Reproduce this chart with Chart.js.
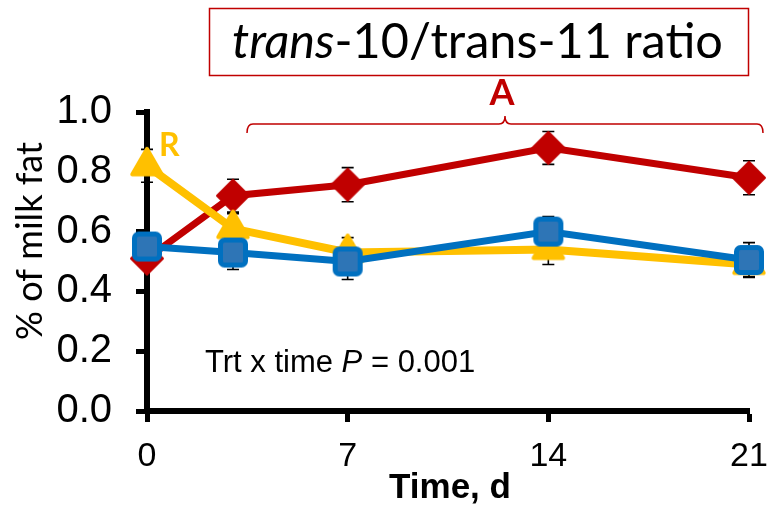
<!DOCTYPE html>
<html>
<head>
<meta charset="utf-8">
<script src="https://cdn.jsdelivr.net/npm/chart.js@4"></script>
<style>
  html, body { margin: 0; padding: 0; background: #fff; }
  #wrap { width: 772px; height: 512px; }
</style>
</head>
<body>
<div id="wrap"><canvas id="myChart" width="772" height="512"></canvas></div>
<script>
// sampling days and ratio means (% of milk fat) per treatment
const days = [0, 3, 7, 14, 21];
const trtRed = [0.51, 0.72, 0.757, 0.88, 0.78];
const trtYellow = [0.82, 0.61, 0.53, 0.54, 0.49];
const trtBlue = [0.55, 0.53, 0.50, 0.60, 0.505];

// standard errors
const errRed = [0.03, 0.055, 0.057, 0.055, 0.057];
const errYellow = [0.055, 0.05, 0.05, 0.05, 0.04];
const errBlue = [0.03, 0.057, 0.06, 0.05, 0.058];

const xTicks = [0, 7, 14, 21];
const yTicks = [0, 0.2, 0.4, 0.6, 0.8, 1.0];

const RED = '#C00000';
const YELLOW = '#FFC000';
const BLUE = '#0070C0';

// little canvases used as point markers
function makeTriangle(r, color) {
  const c = document.createElement('canvas');
  const s = Math.ceil(2 * r + 10);
  c.width = s; c.height = s;
  const g = c.getContext('2d');
  const m = s / 2;
  g.beginPath();
  for (let k = 0; k < 3; k++) {
    const a = -Math.PI / 2 + k * 2 * Math.PI / 3;
    const px = m + r * Math.cos(a), py = m + r * Math.sin(a);
    if (k === 0) g.moveTo(px, py); else g.lineTo(px, py);
  }
  g.closePath();
  g.fillStyle = color; g.strokeStyle = color;
  g.lineWidth = 4; g.lineJoin = 'round';
  g.fill(); g.stroke();
  return c;
}

function makeSquare(side, fill, stroke) {
  const c = document.createElement('canvas');
  const s = side + 8;
  c.width = s; c.height = s;
  const g = c.getContext('2d');
  const m = s / 2, h = (side - 5) / 2;
  g.beginPath();
  g.roundRect(m - h, m - h, 2 * h, 2 * h, 4);
  g.fillStyle = fill; g.fill();
  g.strokeStyle = stroke; g.lineWidth = 5; g.lineJoin = 'round';
  g.stroke();
  return c;
}

function makeDiamond(r, color) {
  const c = document.createElement('canvas');
  const s = 2 * r + 6;
  c.width = s; c.height = s;
  const g = c.getContext('2d');
  const m = s / 2;
  g.beginPath();
  g.moveTo(m, m - r); g.lineTo(m + r, m); g.lineTo(m, m + r); g.lineTo(m - r, m);
  g.closePath();
  g.fillStyle = color; g.strokeStyle = color;
  g.lineWidth = 2; g.lineJoin = 'round';
  g.fill(); g.stroke();
  return c;
}

function toXY(vals) {
  return vals.map((v, i) => ({ x: days[i], y: v }));
}

const errorBars = {
  id: 'errorBars',
  beforeDatasetsDraw(chart) {
    const ctx = chart.ctx;
    const yScale = chart.scales.y;
    const errs = [errBlue, errYellow, errRed];
    ctx.save();
    ctx.strokeStyle = '#000';
    ctx.lineWidth = 1.6;
    chart.data.datasets.forEach((ds, i) => {
      const meta = chart.getDatasetMeta(i);
      meta.data.forEach((pt, j) => {
        const v = ds.data[j].y;
        const top = yScale.getPixelForValue(v + errs[i][j]);
        const bot = yScale.getPixelForValue(v - errs[i][j]);
        ctx.beginPath();
        ctx.moveTo(pt.x, top); ctx.lineTo(pt.x, bot);
        ctx.moveTo(pt.x - 6, top); ctx.lineTo(pt.x + 6, top);
        ctx.moveTo(pt.x - 6, bot); ctx.lineTo(pt.x + 6, bot);
        ctx.stroke();
      });
    });
    ctx.restore();
  }
};

// font size that makes a string come out at a given width
function fitSize(ctx, parts, family, target) {
  let w = 0;
  parts.forEach(p => {
    ctx.font = (p.style || '') + ' 100px ' + family;
    w += ctx.measureText(p.text).width;
  });
  return 100 * target / w;
}

function drawParts(ctx, parts, family, size, x, y) {
  parts.forEach(p => {
    ctx.font = (p.style || '') + ' ' + size + 'px ' + family;
    ctx.fillText(p.text, x, y);
    x += ctx.measureText(p.text).width;
  });
}

const labels = {
  id: 'labels',
  afterDraw(chart) {
    const ctx = chart.ctx;
    ctx.save();
    ctx.textBaseline = 'alphabetic';
    ctx.textAlign = 'left';

    // boxed heading
    ctx.strokeStyle = RED;
    ctx.lineWidth = 1.5;
    ctx.strokeRect(209.5, 8.5, 539, 67);
    const head = [{ text: 'trans', style: 'italic' }, { text: '-10/trans-11 ratio' }];
    const hf = 'Lato, "Open Sans", sans-serif';
    const hs = fitSize(ctx, head, hf, 491);
    ctx.fillStyle = '#000';
    drawParts(ctx, head, hf, hs, 232, 58);

    // bracket with letter
    ctx.beginPath();
    ctx.moveTo(247, 133);
    ctx.quadraticCurveTo(247, 124, 253, 124);
    ctx.lineTo(499, 124);
    ctx.quadraticCurveTo(505, 124, 505, 116);
    ctx.quadraticCurveTo(505, 124, 511, 124);
    ctx.lineTo(757, 124);
    ctx.quadraticCurveTo(763, 124, 763, 133);
    ctx.stroke();

    ctx.fillStyle = RED;
    ctx.font = 'bold 36px Lato, sans-serif';
    ctx.textAlign = 'center';
    ctx.fillText('A', 502, 105);

    ctx.fillStyle = YELLOW;
    ctx.textAlign = 'left';
    ctx.font = 'bold 32px Lato, sans-serif';
    ctx.fillText('R', 159, 156);

    // interaction P value
    ctx.fillStyle = '#000';
    const pv = [{ text: 'Trt x time ' }, { text: 'P', style: 'italic' }, { text: ' = 0.001' }];
    drawParts(ctx, pv, '"Liberation Sans", Arial, sans-serif', 31, 205, 372);

    // axis titles
    ctx.font = 'bold 35px "Liberation Sans", Arial, sans-serif';
    ctx.textAlign = 'center';
    ctx.fillText('Time, d', 450, 498);

    const yt = [{ text: '% of milk fat' }];
    const ys = fitSize(ctx, yt, hf, 198);
    ctx.translate(42, 241);
    ctx.rotate(-Math.PI / 2);
    ctx.font = ys + 'px ' + hf;
    ctx.textAlign = 'center';
    ctx.fillText('% of milk fat', 0, 0);
    ctx.restore();
  }
};

const ctx = document.getElementById('myChart');

new Chart(ctx, {
  type: 'line',
  data: {
    datasets: [
      {
        label: 'Blue',
        data: toXY(trtBlue),
        borderColor: BLUE,
        borderWidth: 7,
        pointStyle: makeSquare(30, '#2E75B6', BLUE),
        pointRadius: 15,
        clip: false
      },
      {
        label: 'Yellow',
        data: toXY(trtYellow),
        borderColor: YELLOW,
        borderWidth: 8,
        pointStyle: makeTriangle(17, YELLOW),
        pointRadius: 15,
        clip: false
      },
      {
        label: 'Red',
        data: toXY(trtRed),
        borderColor: RED,
        borderWidth: 7,
        pointStyle: makeDiamond(16, RED),
        pointRadius: 15,
        clip: false
      }
    ]
  },
  options: {
    responsive: false,
    animation: false,
    layout: { padding: { top: 112, right: 18, bottom: 0, left: 0 } },
    plugins: {
      legend: { display: false },
      tooltip: { enabled: false }
    },
    scales: {
      x: {
        type: 'linear',
        min: 0,
        max: 21,
        afterBuildTicks: s => { s.ticks = xTicks.map(v => ({ value: v })); },
        afterFit: s => { s.height = 101; s.paddingLeft = 0; s.paddingRight = 0; },
        grid: { drawOnChartArea: false, tickLength: 11, tickWidth: 5, tickColor: '#000' },
        border: { color: '#000', width: 6 },
        ticks: {
          color: '#000',
          padding: 14,
          font: { family: '"Liberation Sans", Arial, sans-serif', size: 34 }
        }
      },
      y: {
        min: 0,
        max: 1,
        afterBuildTicks: s => { s.ticks = yTicks.map(v => ({ value: v })); },
        afterFit: s => { s.width = 147; },
        grid: { drawOnChartArea: false, tickLength: 11, tickWidth: 5, tickColor: '#000' },
        border: { color: '#000', width: 6 },
        ticks: {
          color: '#000',
          padding: 24,
          callback: v => v.toFixed(1),
          font: { family: '"Liberation Sans", Arial, sans-serif', size: 40 }
        }
      }
    }
  },
  plugins: [errorBars, labels]
});
</script>
</body>
</html>
